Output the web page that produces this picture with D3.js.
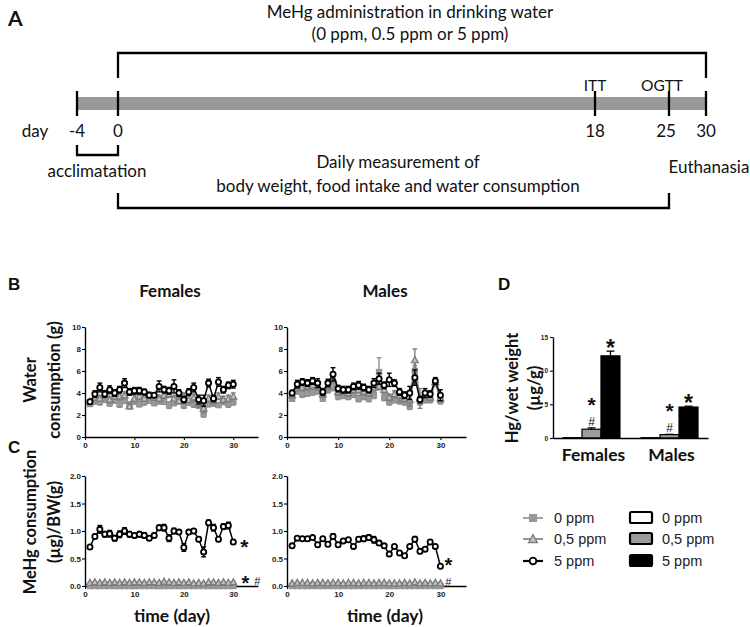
<!DOCTYPE html>
<html><head><meta charset="utf-8">
<script src="https://cdn.jsdelivr.net/npm/d3@7"></script>
<style>body{margin:0;background:#fff}svg{display:block}</style>
</head><body>
<svg id="c" width="750" height="627"></svg>
<script>
// ---------------- DATA ----------------
const days = [1,2,3,4,5,6,7,8,9,10,11,12,13,14,15,16,17,18,19,20,21,22,23,24,25,26,27,28,29,30];

// Panel A timeline
const timelineDays = [-4, 0, 18, 25, 30];
const timelineLabels = ["-4", "0", "18", "25", "30"];

// Panel B: water consumption (g)
const waterF0  = [3.0,3.3,3.2,3.4,3.1,3.3,3.0,3.3,2.9,3.2,3.0,3.2,3.3,3.1,3.3,3.2,2.9,3.1,3.4,2.9,3.1,3.0,2.9,2.1,3.0,3.1,2.9,3.2,3.0,3.2];
const waterF05 = [3.2,3.6,3.5,3.9,3.4,3.7,3.7,3.8,2.8,3.5,3.7,3.5,3.8,3.6,3.5,3.8,3.9,3.5,3.3,3.7,3.4,3.6,3.1,2.6,3.5,3.3,3.7,3.4,3.5,3.7];
const waterF5  = [3.2,3.9,4.5,3.9,4.3,4.0,4.3,4.9,4.1,4.2,4.2,4.1,3.8,3.8,4.6,4.3,4.2,4.6,4.0,3.4,4.1,4.5,3.4,3.3,4.9,3.5,5.0,4.3,4.7,4.8];
const waterF0err  = [0.2,0.3,0.3,0.25,0.3,0.2,0.3,0.25,0.3,0.2,0.25,0.3,0.2,0.25,0.3,0.2,0.3,0.25,0.3,0.3,0.2,0.3,0.3,0.3,0.25,0.3,0.2,0.25,0.3,0.3];
const waterF05err = [0.2,0.3,0.25,0.3,0.3,0.25,0.3,0.3,0.25,0.3,0.3,0.25,0.3,0.25,0.3,0.3,0.3,0.25,0.3,0.3,0.3,0.3,0.4,0.4,0.3,0.3,0.3,0.3,0.3,0.3];
const waterFerr   = [0.15,0.3,0.4,0.3,0.35,0.3,0.3,0.4,0.3,0.3,0.3,0.25,0.2,0.2,0.5,0.3,0.3,0.6,0.3,0.3,0.3,0.4,0.4,0.5,0.35,0.3,0.4,0.3,0.3,0.35];
const waterM0  = [3.5,4.2,3.9,4.0,4.1,4.2,3.5,4.3,4.6,3.7,3.8,3.7,3.9,3.5,3.7,3.5,3.8,5.9,3.6,3.2,3.4,3.3,3.2,2.8,6.0,3.2,3.4,3.4,4.9,3.3];
const waterM05 = [3.8,4.5,4.5,4.6,4.7,4.6,3.9,4.6,5.3,4.1,4.2,4.0,4.3,4.3,4.1,4.0,4.5,4.6,4.3,3.6,3.9,3.8,3.5,3.4,7.0,3.5,3.8,3.6,5.0,3.5];
const waterM5  = [4.0,4.8,5.0,4.9,5.1,4.9,4.1,4.9,5.7,4.4,4.3,4.3,4.6,4.7,4.5,4.3,4.9,5.3,4.7,5.2,4.9,4.1,3.8,4.0,5.4,3.4,4.0,3.9,5.1,3.8];
const waterM0err  = [0.25,0.3,0.3,0.3,0.3,0.3,0.25,0.3,0.4,0.3,0.3,0.3,0.3,0.3,0.3,0.3,0.3,1.3,0.3,0.3,0.3,0.3,0.3,0.3,0.5,0.3,0.3,0.3,0.3,0.3];
const waterM05err = [0.25,0.3,0.3,0.3,0.3,0.3,0.3,0.3,0.3,0.3,0.3,0.3,0.3,0.3,0.3,0.3,0.3,0.3,0.3,0.3,0.3,0.6,0.3,0.6,1.0,0.9,0.3,0.3,0.3,0.3];
const waterMerr   = [0.25,0.35,0.3,0.3,0.3,0.4,0.3,0.35,0.6,0.3,0.3,0.3,0.3,0.35,0.3,0.3,0.4,0.5,0.3,0.6,0.3,0.3,0.3,0.6,0.7,0.3,0.4,0.3,0.3,0.5];

// Panel C: MeHg consumption (µg)/BW(g)
const mehgF0  = [0,0,0,0,0,0,0,0,0,0,0,0,0,0,0,0,0,0,0,0,0,0,0,0,0,0,0,0,0,0];
const mehgF05 = [0.06,0.07,0.06,0.07,0.06,0.07,0.06,0.07,0.06,0.07,0.07,0.06,0.07,0.07,0.06,0.08,0.07,0.06,0.07,0.06,0.07,0.05,0.06,0.05,0.07,0.07,0.06,0.07,0.06,0.07];
const mehgF5  = [0.71,0.90,1.03,0.94,0.95,0.87,0.94,1.00,0.94,0.92,0.94,0.92,0.87,0.92,1.06,1.06,0.87,1.00,0.98,0.70,0.98,1.00,0.85,0.62,1.15,1.06,0.85,1.08,1.10,0.80];
const mehgFerr = [0.02,0.04,0.07,0.05,0.06,0.05,0.06,0.06,0.05,0.04,0.05,0.05,0.04,0.04,0.05,0.06,0.06,0.05,0.04,0.07,0.04,0.04,0.04,0.09,0.05,0.06,0.04,0.05,0.06,0.03];
const mehgM0  = [0,0,0,0,0,0,0,0,0,0,0,0,0,0,0,0,0,0,0,0,0,0,0,0,0,0,0,0,0,0];
const mehgM05 = [0.05,0.06,0.06,0.06,0.05,0.06,0.06,0.05,0.06,0.06,0.05,0.06,0.06,0.05,0.06,0.06,0.05,0.06,0.06,0.05,0.05,0.05,0.06,0.05,0.07,0.05,0.06,0.05,0.06,0.05];
const mehgM5  = [0.73,0.87,0.86,0.86,0.88,0.75,0.86,0.76,0.90,0.75,0.82,0.84,0.72,0.85,0.86,0.88,0.84,0.78,0.73,0.58,0.72,0.60,0.55,0.72,0.85,0.63,0.67,0.80,0.72,0.36];
const mehgMerr = [0.02,0.03,0.03,0.03,0.03,0.03,0.03,0.03,0.05,0.03,0.03,0.03,0.03,0.04,0.05,0.05,0.06,0.04,0.02,0.03,0.03,0.04,0.03,0.03,0.05,0.04,0.03,0.04,0.03,0.02];

// Panel D: Hg / wet weight (µg/g)
const groups = ["Females", "Males"];
const barDoses = ["0 ppm", "0,5 ppm", "5 ppm"];
const hgFemales = [0.05, 1.3, 12.2];
const hgFemalesErr = [0.02, 0.2, 0.7];
const hgMales = [0.05, 0.5, 4.6];
const hgMalesErr = [0.02, 0.05, 0.12];
const sigMarks = ["", "*#", "*"];

const lineDoses = ["0 ppm", "0,5 ppm", "5 ppm"];
const bTicks = [0, 2, 4, 6, 8, 10];
const cTicks = [0.0, 0.5, 1.0, 1.5, 2.0];
const dTicks = [0, 5, 10, 15];
const xTicks = [0, 10, 20, 30];

// ---------------- STYLE ----------------
const HUM = "Lato, 'Open Sans', sans-serif";
const ARI = "'Liberation Sans', Arial, sans-serif";
const svg = d3.select("#c");

const styles = [
  {shape: "square",   fill: "#9a9a9a", stroke: "#8e8e8e", line: "#9a9a9a", lw: 1.3},
  {shape: "triangle", fill: "#c4c4c4", stroke: "#7c7c7c", line: "#8a8a8a", lw: 1.3},
  {shape: "circle",   fill: "#ffffff", stroke: "#000000", line: "#000000", lw: 1.5}
];

function marker(g, shape, cx, cy, st, sc) {
  sc = sc || 1;
  if (shape === "square") {
    g.append("rect").attr("x", cx - 2.8*sc).attr("y", cy - 2.8*sc).attr("width", 5.6*sc).attr("height", 5.6*sc)
      .attr("fill", st.fill).attr("stroke", st.stroke).attr("stroke-width", 0.8);
  } else if (shape === "triangle") {
    const h = 3.3*sc;
    g.append("path").attr("d", `M${cx},${cy-h}L${cx+h},${cy+h*0.8}L${cx-h},${cy+h*0.8}Z`)
      .attr("fill", st.fill).attr("stroke", st.stroke).attr("stroke-width", 1.4);
  } else {
    g.append("circle").attr("cx", cx).attr("cy", cy).attr("r", 2.6*sc)
      .attr("fill", st.fill).attr("stroke", st.stroke).attr("stroke-width", 1.8);
  }
}

function styleAxis(sel) {
  sel.selectAll("path.domain").attr("stroke", "#000").attr("stroke-width", 1.4);
  sel.selectAll(".tick line").attr("stroke", "#000").attr("stroke-width", 1.1);
  sel.selectAll(".tick text").attr("font-family", ARI).attr("font-weight", "bold")
    .attr("font-size", 8).attr("fill", "#222");
}

function linePanel(x, y, series, errs, yTickVals, yFmt) {
  const g = svg.append("g");
  const gx = g.append("g").attr("transform", `translate(0,${y.range()[0]})`)
    .call(d3.axisBottom(x).tickValues(xTicks).tickSize(3).tickSizeOuter(0).tickPadding(2));
  styleAxis(gx);
  const gy = g.append("g").attr("transform", `translate(${x.range()[0]},0)`)
    .call(d3.axisLeft(y).tickValues(yTickVals).tickFormat(yFmt).tickSize(3).tickSizeOuter(0).tickPadding(1));
  styleAxis(gy);
  series.forEach((vals, si) => {
    const st = styles[si];
    const pts = days.map((d, i) => [d, vals[i], errs[si] ? errs[si][i] : 0]);
    const sg = g.append("g");
    sg.append("path").datum(pts)
      .attr("d", d3.line().x(p => x(p[0])).y(p => y(p[1])))
      .attr("fill", "none").attr("stroke", st.line).attr("stroke-width", st.lw);
    pts.forEach(p => {
      if (p[2] > 0) {
        const y1 = y(p[1] + p[2]), y0 = y(Math.max(0, p[1] - p[2]));
        sg.append("line").attr("x1", x(p[0])).attr("x2", x(p[0])).attr("y1", y1).attr("y2", y0)
          .attr("stroke", st.stroke).attr("stroke-width", 1.4);
        [y1, y0].forEach(yy => sg.append("line").attr("x1", x(p[0]) - 2.4).attr("x2", x(p[0]) + 2.4)
          .attr("y1", yy).attr("y2", yy).attr("stroke", st.stroke).attr("stroke-width", 1.4));
      }
      marker(sg, st.shape, x(p[0]), y(p[1]), st);
    });
  });
  return g;
}

function txt(x, y, s, size, opts) {
  opts = opts || {};
  const t = svg.append("text").attr("x", x).attr("y", y).text(s)
    .attr("font-family", opts.family || HUM).attr("font-size", size)
    .attr("font-weight", opts.weight || "normal").attr("fill", opts.fill || "#111")
    .attr("text-anchor", opts.anchor || "middle");
  if (opts.rot) t.attr("transform", `rotate(-90,${x},${y})`);
  return t;
}

// ---------------- PANEL A ----------------
const tl = d3.scaleLinear().domain(timelineDays).range([77, 118, 595, 669, 706]);
txt(8, 26, "A", 21, {weight: "bold", anchor: "start", family: HUM});
txt(410, 18, "MeHg administration in drinking water", 17);
txt(410, 40, "(0 ppm, 0.5 ppm or 5 ppm)", 17);
svg.append("path").attr("d", `M${tl(0)},78V53H${tl(30)}V78`).attr("fill", "none").attr("stroke", "#000").attr("stroke-width", 2.3);
svg.append("rect").attr("x", tl(-4)).attr("y", 97).attr("width", tl(30) - tl(-4)).attr("height", 13).attr("fill", "#999");
timelineDays.forEach((d, i) => {
  svg.append("line").attr("x1", tl(d)).attr("x2", tl(d)).attr("y1", 91).attr("y2", 116).attr("stroke", "#000").attr("stroke-width", 2.3);
  txt(tl(d) + (d === 25 ? -3 : 0), 137, timelineLabels[i], 17);
});
txt(35, 137, "day", 17);
txt(tl(18), 91, "ITT", 15.5);
txt(tl(25) - 7, 91, "OGTT", 15.5);
svg.append("path").attr("d", `M${tl(-4)},145V155H${tl(0)}V145`).attr("fill", "none").attr("stroke", "#000").attr("stroke-width", 2.3);
txt(97, 177, "acclimatation", 17);
txt(709, 173, "Euthanasia", 17);
txt(398, 168, "Daily measurement of", 17);
txt(398, 192, "body weight, food intake and water consumption", 17);
svg.append("path").attr("d", `M${tl(0)},193V208H${tl(25)}V193`).attr("fill", "none").attr("stroke", "#000").attr("stroke-width", 2.3);

// ---------------- PANELS B & C ----------------
const xF = d3.scaleLinear().domain([0, 35]).range([85, 258]);
const xM = d3.scaleLinear().domain([0, 35]).range([287, 466]);
const yB = d3.scaleLinear().domain([0, 10]).range([437, 327]);
const yC = d3.scaleLinear().domain([0, 2]).range([586, 476]);
const fB = d3.format("d"), fC = d3.format(".1f");

txt(8, 290, "B", 17, {weight: "bold", anchor: "start", family: ARI});
txt(170, 297, "Females", 17, {weight: "bold"});
txt(385, 297, "Males", 17, {weight: "bold"});
linePanel(xF, yB, [waterF0, waterF05, waterF5], [waterF0err, waterF05err, waterFerr], bTicks, fB);
linePanel(xM, yB, [waterM0, waterM05, waterM5], [waterM0err, waterM05err, waterMerr], bTicks, fB);
txt(36, 380, "Water", 16.5, {weight: "bold", rot: true});
txt(60, 380, "consumption (g)", 16.5, {weight: "bold", rot: true});

txt(8, 453, "C", 17, {weight: "bold", anchor: "start", family: ARI});
linePanel(xF, yC, [mehgF0, mehgF05, mehgF5], [null, null, mehgFerr], cTicks, fC);
linePanel(xM, yC, [mehgM0, mehgM05, mehgM5], [null, null, mehgMerr], cTicks, fC);
txt(36, 522, "MeHg consumption", 16.5, {weight: "bold", rot: true});
txt(60, 522, "(µg)/BW(g)", 16.5, {weight: "bold", rot: true});
txt(172, 622, "time (day)", 17.5, {weight: "bold"});
txt(385, 622, "time (day)", 17.5, {weight: "bold"});

// significance marks in C
txt(xF(30) + 11, yC(mehgF5[29]) + 12, "*", 21, {weight: "bold", family: ARI});
txt(xF(30) + 12, yC(0) + 4, "*", 20, {weight: "bold", family: ARI});
txt(xF(30) + 24, yC(0) - 1.5, "#", 11, {family: ARI});
txt(xM(30) + 8, yC(0) - 14, "*", 20, {weight: "bold", family: ARI});
txt(xM(30) + 8, yC(0) - 0.5, "#", 11, {family: ARI});

// ---------------- PANEL D ----------------
txt(498, 290, "D", 17, {weight: "bold", anchor: "start", family: ARI});
const yD = d3.scaleLinear().domain([0, 15]).range([438, 337]);
const xG = d3.scaleBand().domain(groups).range([553, 708]).paddingInner(0.27).paddingOuter(0.128);
const xIn = d3.scaleBand().domain(barDoses).range([0, xG.bandwidth()]);
const gD = svg.append("g");
const barFill = ["#ffffff", "#9c9c9c", "#000000"];
const allBars = [hgFemales, hgMales];
const allErr = [hgFemalesErr, hgMalesErr];
groups.forEach((gname, gi) => {
  barDoses.forEach((dose, di) => {
    const v = allBars[gi][di], e = allErr[gi][di];
    const bx = xG(gname) + xIn(dose), bw = xIn.bandwidth();
    gD.append("rect").attr("x", bx).attr("y", yD(v)).attr("width", bw).attr("height", yD(0) - yD(v))
      .attr("fill", barFill[di]).attr("stroke", "#000").attr("stroke-width", 1.2);
    const cx = bx + bw / 2;
    if (e > 0.03) {
      gD.append("line").attr("x1", cx).attr("x2", cx).attr("y1", yD(v)).attr("y2", yD(v + e)).attr("stroke", "#000").attr("stroke-width", 1.3);
      gD.append("line").attr("x1", cx - 4).attr("x2", cx + 4).attr("y1", yD(v + e)).attr("y2", yD(v + e)).attr("stroke", "#000").attr("stroke-width", 1.3);
    }
    const m = sigMarks[di];
    const top = yD(v + e);
    if (m === "*#") {
      txt(cx, top - 2, "#", 12, {family: ARI});
      txt(cx, top - 16, "*", 21, {weight: "bold", family: ARI});
    } else if (m === "*") {
      txt(cx, top + 5, "*", 23, {weight: "bold", family: ARI});
    }
  });
});
const gDx = gD.append("g").attr("transform", `translate(0,${yD(0)})`)
  .call(d3.axisBottom(xG).tickSize(0).tickFormat(""));
styleAxis(gDx);
const gDy = gD.append("g").attr("transform", `translate(553,0)`)
  .call(d3.axisLeft(yD).tickValues(dTicks).tickSize(3).tickSizeOuter(0).tickPadding(2));
styleAxis(gDy);
gDy.selectAll(".tick text").attr("font-size", 6.5);
groups.forEach(gname => txt(xG(gname) + xG.bandwidth() / 2 + 2, 461, gname, 17.5, {weight: "bold"}));
txt(518, 388, "Hg/wet weight", 16.5, {weight: "bold", rot: true});
txt(540, 388, "(µg/g)", 16.5, {weight: "bold", rot: true});

// ---------------- LEGEND ----------------
const legRows = [518, 539, 561];
lineDoses.forEach((name, i) => {
  const st = styles[i];
  const ry = legRows[i];
  svg.append("line").attr("x1", 523).attr("x2", 543).attr("y1", ry).attr("y2", ry)
    .attr("stroke", st.line).attr("stroke-width", i === 2 ? 2.2 : 1.8);
  marker(svg, st.shape, 533, ry, st, 1.3);
  txt(554, ry + 5, name, 14.5, {anchor: "start", family: ARI, fill: "#222"});
});
barDoses.forEach((name, i) => {
  const ry = legRows[i];
  svg.append("rect").attr("x", 630).attr("y", ry - 6).attr("width", 22).attr("height", 11).attr("rx", 1.5)
    .attr("fill", barFill[i]).attr("stroke", "#000").attr("stroke-width", 2.2);
  txt(662, ry + 5, name, 14.5, {anchor: "start", family: ARI, fill: "#222"});
});
</script>
</body></html>
